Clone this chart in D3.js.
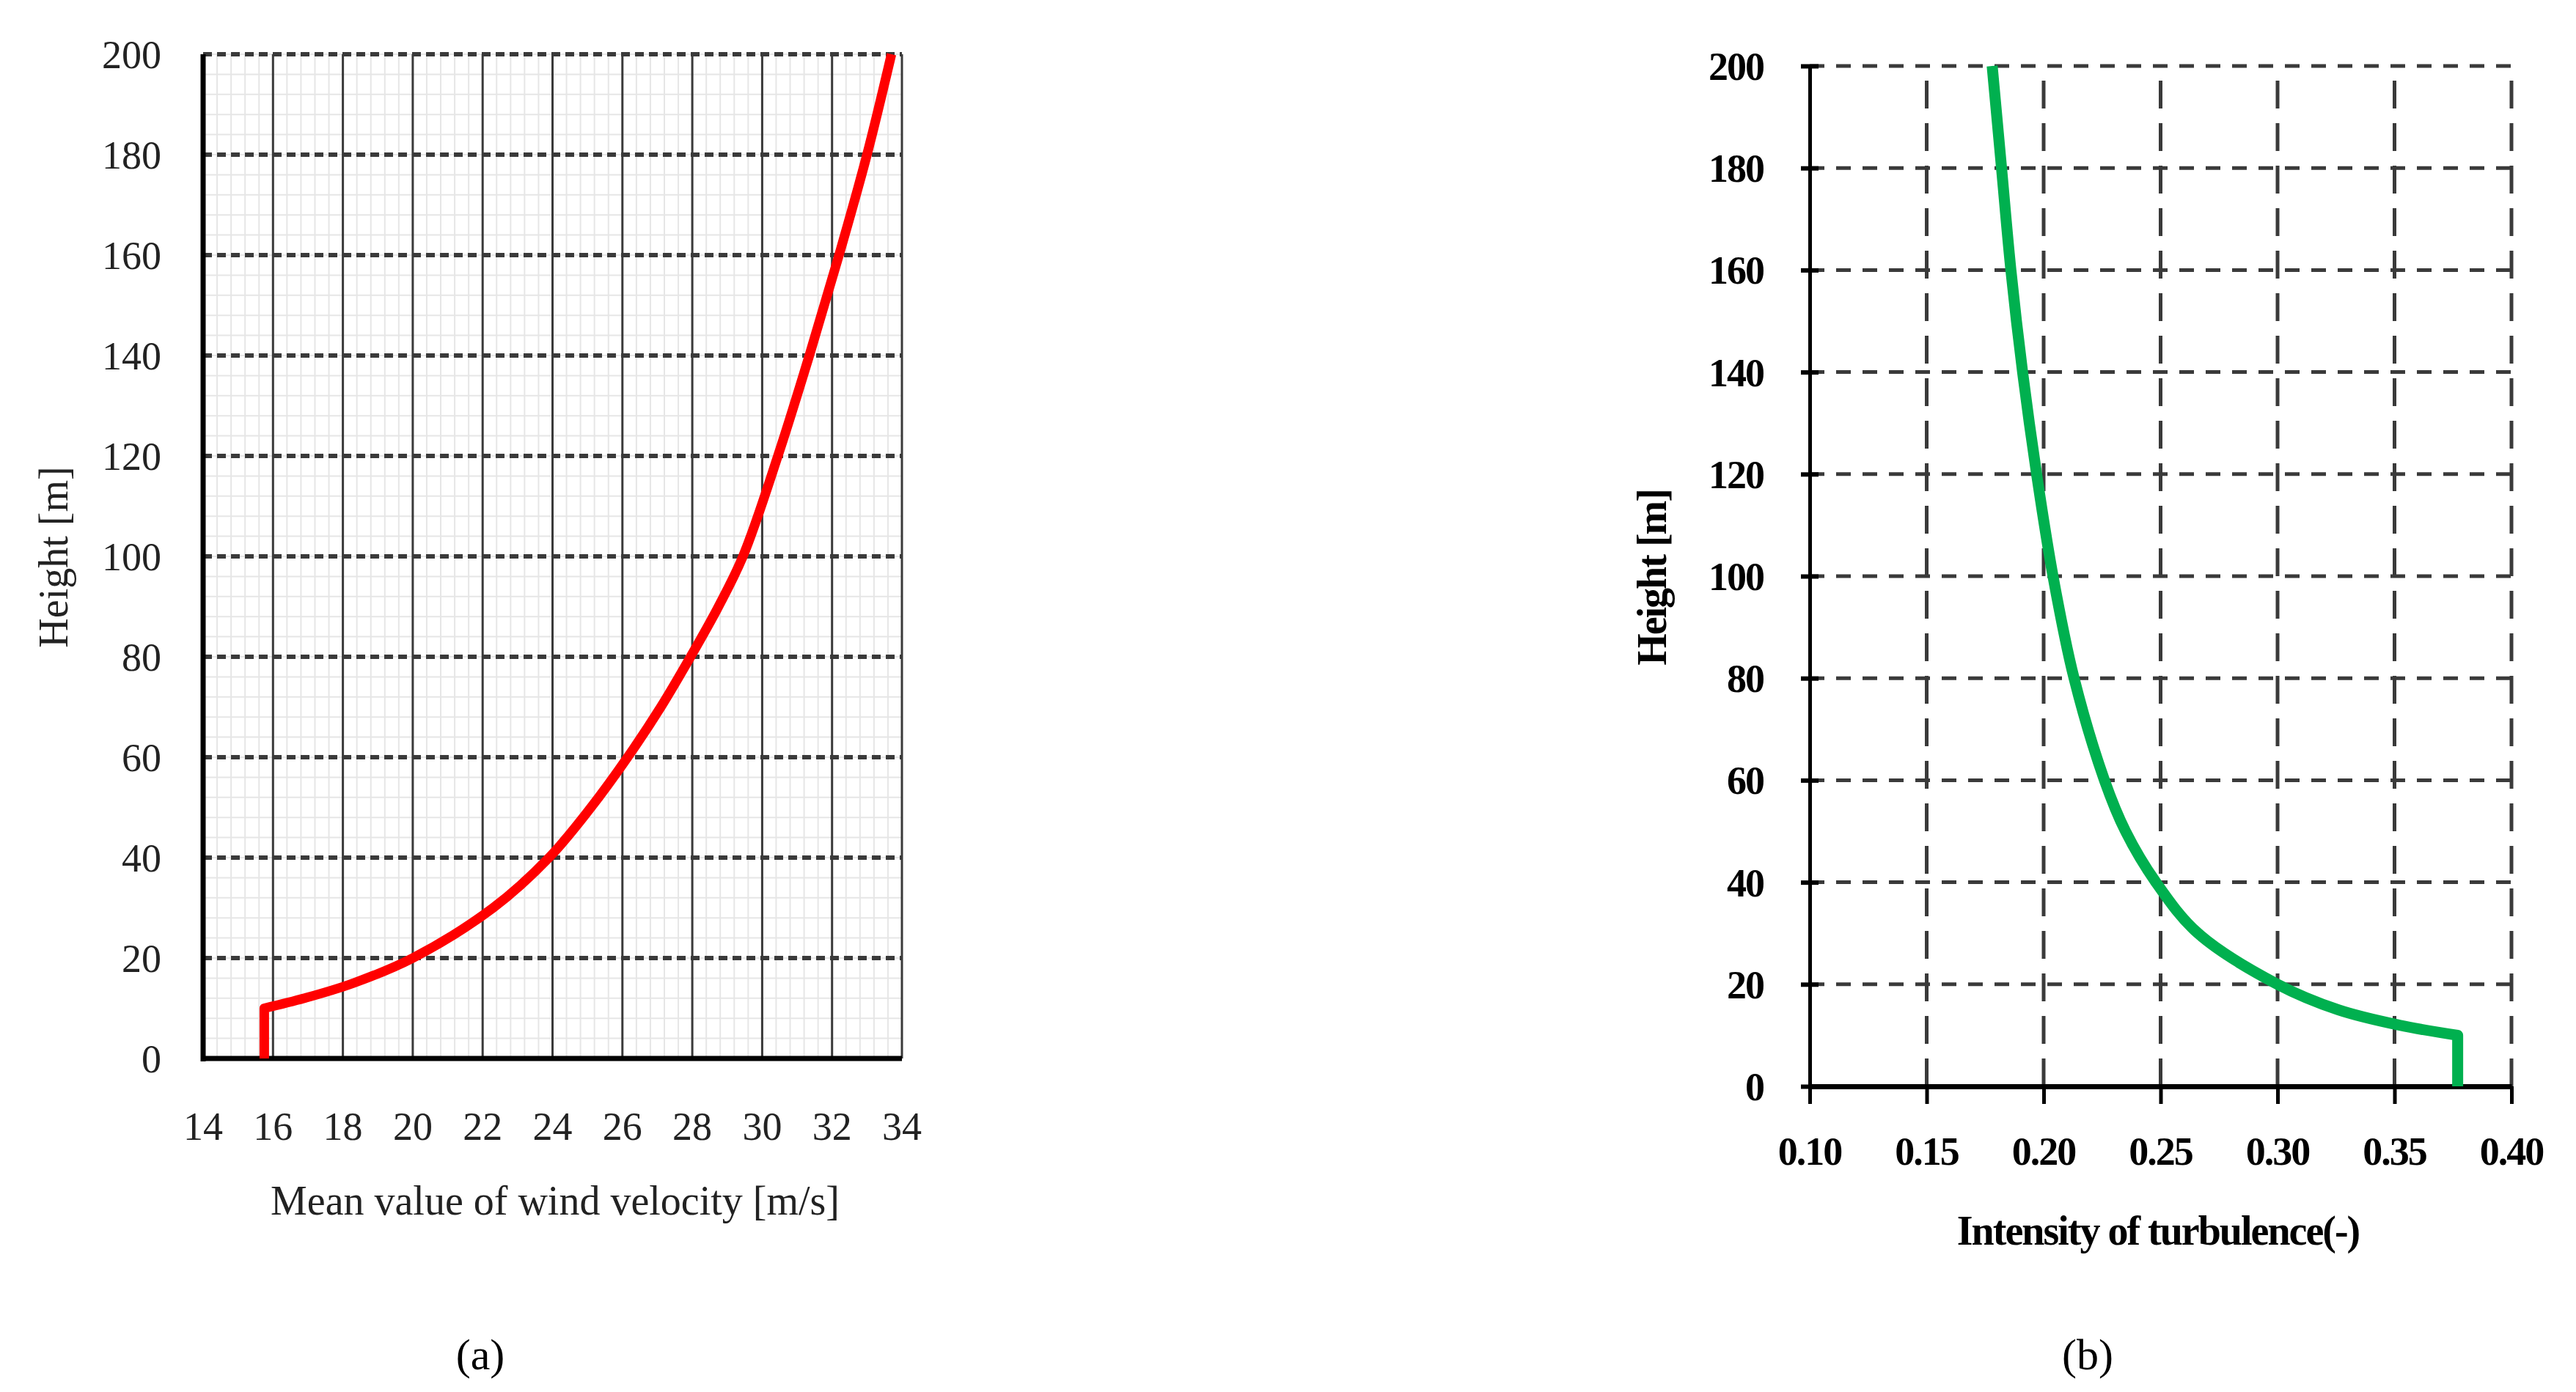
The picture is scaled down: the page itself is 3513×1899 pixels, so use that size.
<!DOCTYPE html>
<html><head><meta charset="utf-8">
<script src="https://cdn.jsdelivr.net/npm/d3@7"></script>
<style>body{margin:0;background:#fff}</style>
</head><body><svg id="c" width="3513" height="1899"></svg>
<script>
// chart (a): mean wind velocity profile
let heightsA = [0,10,12,15,20,30,40,50,60,70,80,90,100,120,140,160,180,200];
let velocity = [15.75,15.75,16.9,18.3,20.0,22.3,23.9,25.1,26.15,27.1,27.95,28.75,29.45,30.45,31.35,32.2,33.0,33.7];
// chart (b): turbulence intensity profile
let heightsB = [0,10,12,15,20,30,40,50,60,80,100,120,140,160,180,200];
let intensity = [0.377,0.377,0.352,0.326,0.30,0.266,0.248,0.235,0.226,0.213,0.204,0.197,0.191,0.186,0.182,0.178];
let xTicksA = [14,16,18,20,22,24,26,28,30,32,34];
let xTicksB = [0.10,0.15,0.20,0.25,0.30,0.35,0.40];
let yTicks = [0,20,40,60,80,100,120,140,160,180,200];

let svg = d3.select("#c");
let serif = "'Liberation Serif','DejaVu Serif',serif";
let curve = d3.curveCatmullRom.alpha(0.5);

// ---------- (a)
let xA = d3.scaleLinear().domain([14,34]).range([277,1230]);
let yA = d3.scaleLinear().domain([0,200]).range([1444,74]);
let gA = svg.append("g");
// minor grid
gA.selectAll(".mv").data(d3.range(14,34.001,0.4)).join("line")
  .attr("x1",d=>xA(d)).attr("x2",d=>xA(d)).attr("y1",yA(0)).attr("y2",yA(200))
  .attr("stroke","#e6e6e6").attr("stroke-width",2);
gA.selectAll(".mh").data(d3.range(0,200.001,4)).join("line")
  .attr("x1",xA(14)).attr("x2",xA(34)).attr("y1",d=>yA(d)).attr("y2",d=>yA(d))
  .attr("stroke","#e6e6e6").attr("stroke-width",2);
// major grid
gA.selectAll(".Mv").data(xTicksA.slice(1)).join("line")
  .attr("x1",d=>xA(d)).attr("x2",d=>xA(d)).attr("y1",yA(0)).attr("y2",yA(200))
  .attr("stroke","#3a3a3a").attr("stroke-width",3);
gA.selectAll(".Mh").data(yTicks.slice(1)).join("line")
  .attr("x1",xA(14)).attr("x2",xA(34)).attr("y1",d=>yA(d)).attr("y2",d=>yA(d))
  .attr("stroke","#3a3a3a").attr("stroke-width",6).attr("stroke-dasharray","12,7");
gA.append("line").attr("x1",xA(14)).attr("x2",xA(14)).attr("y1",yA(200)).attr("y2",yA(0)+4)
  .attr("stroke","#000").attr("stroke-width",7);
gA.append("line").attr("x1",xA(14)-3).attr("x2",xA(34)).attr("y1",yA(0)).attr("y2",yA(0))
  .attr("stroke","#000").attr("stroke-width",7);
let ptsA = heightsA.map((h,i)=>[velocity[i],h]);
let lineA = d3.line().x(d=>xA(d[0])).y(d=>yA(d[1]));
gA.append("path").attr("d",lineA(ptsA.slice(0,2)) + lineA.curve(curve)(ptsA.slice(1)).replace(/^M/,"L"))
  .attr("fill","none").attr("stroke","#ff0000").attr("stroke-width",13).attr("stroke-linejoin","round");
gA.selectAll(".yt").data(yTicks).join("text")
  .attr("x",220).attr("y",d=>yA(d)).attr("dy","0.35em").attr("text-anchor","end")
  .attr("font-family",serif).attr("font-size",54).attr("fill","#222").text(d=>d);
gA.selectAll(".xt").data(xTicksA).join("text")
  .attr("x",d=>xA(d)).attr("y",1536).attr("dy","0.35em").attr("text-anchor","middle")
  .attr("font-family",serif).attr("font-size",54).attr("fill","#222").text(d=>d);
gA.append("text").attr("transform","translate(72,760) rotate(-90)").attr("dy","0.35em")
  .attr("text-anchor","middle").attr("font-family",serif).attr("font-size",56).attr("fill","#222")
  .text("Height [m]");
gA.append("text").attr("x",757).attr("y",1637).attr("dy","0.35em").attr("text-anchor","middle")
  .attr("font-family",serif).attr("font-size",56).attr("fill","#222").text("Mean value of wind velocity [m/s]");
gA.append("text").attr("x",655).attr("y",1847).attr("dy","0.35em").attr("text-anchor","middle")
  .attr("font-family",serif).attr("font-size",60).attr("fill","#000").text("(a)");

// ---------- (b)
let xB = d3.scaleLinear().domain([0.10,0.40]).range([2468,3425]);
let yB = d3.scaleLinear().domain([0,200]).range([1482,90]);
let gB = svg.append("g");
gB.selectAll(".gv").data(xTicksB.slice(1)).join("line")
  .attr("x1",d=>xB(d)).attr("x2",d=>xB(d)).attr("y1",yB(0)).attr("y2",yB(200))
  .attr("stroke","#3a3a3a").attr("stroke-width",5).attr("stroke-dasharray","38,20");
gB.selectAll(".gh").data(yTicks.slice(1)).join("line")
  .attr("x1",xB(0.10)).attr("x2",xB(0.40)).attr("y1",d=>yB(d)).attr("y2",d=>yB(d))
  .attr("stroke","#3a3a3a").attr("stroke-width",5).attr("stroke-dasharray","20,16");
gB.append("g").attr("transform",`translate(0,${yB(0)})`)
  .call(d3.axisBottom(xB).tickValues(xTicksB).tickSize(24).tickSizeOuter(0).tickFormat(""))
  .call(g=>g.selectAll("line,path").attr("stroke","#000").attr("stroke-width",5))
  .call(g=>g.select(".domain").attr("stroke-width",7));
gB.append("g").attr("transform",`translate(${xB(0.10)},0)`)
  .call(d3.axisLeft(yB).tickValues(yTicks).tickSize(12).tickSizeOuter(0).tickFormat(""))
  .call(g=>g.selectAll("line,path").attr("stroke","#000").attr("stroke-width",5))
  .call(g=>g.selectAll(".tick line").attr("x2",12).attr("x1",-12).attr("stroke-width",6));
let ptsB = heightsB.map((h,i)=>[intensity[i],h]);
let lineB = d3.line().x(d=>xB(d[0])).y(d=>yB(d[1]));
gB.append("path").attr("d",lineB(ptsB.slice(0,2)) + lineB.curve(curve)(ptsB.slice(1)).replace(/^M/,"L"))
  .attr("fill","none").attr("stroke","#00b04f").attr("stroke-width",15).attr("stroke-linejoin","round");
gB.selectAll(".yt").data(yTicks).join("text")
  .attr("x",2405).attr("y",d=>yB(d)).attr("dy","0.35em").attr("text-anchor","end")
  .attr("font-family",serif).attr("font-weight","bold").attr("font-size",54).attr("letter-spacing",-2)
  .attr("fill","#000").text(d=>d);
gB.selectAll(".xt").data(xTicksB).join("text")
  .attr("x",d=>xB(d)).attr("y",1570).attr("dy","0.35em").attr("text-anchor","middle")
  .attr("font-family",serif).attr("font-weight","bold").attr("font-size",54).attr("letter-spacing",-2)
  .attr("fill","#000").text(d=>d.toFixed(2));
gB.append("text").attr("transform","translate(2252,788) rotate(-90)").attr("dy","0.35em")
  .attr("text-anchor","middle").attr("font-family",serif).attr("font-weight","bold").attr("font-size",56)
  .attr("letter-spacing",-2).attr("fill","#000").text("Height [m]");
gB.append("text").attr("x",2943).attr("y",1678).attr("dy","0.35em").attr("text-anchor","middle")
  .attr("font-family",serif).attr("font-weight","bold").attr("font-size",56).attr("letter-spacing",-2)
  .attr("fill","#000").text("Intensity of turbulence(-)");
gB.append("text").attr("x",2847).attr("y",1847).attr("dy","0.35em").attr("text-anchor","middle")
  .attr("font-family",serif).attr("font-size",60).attr("fill","#000").text("(b)");
</script></body></html>
